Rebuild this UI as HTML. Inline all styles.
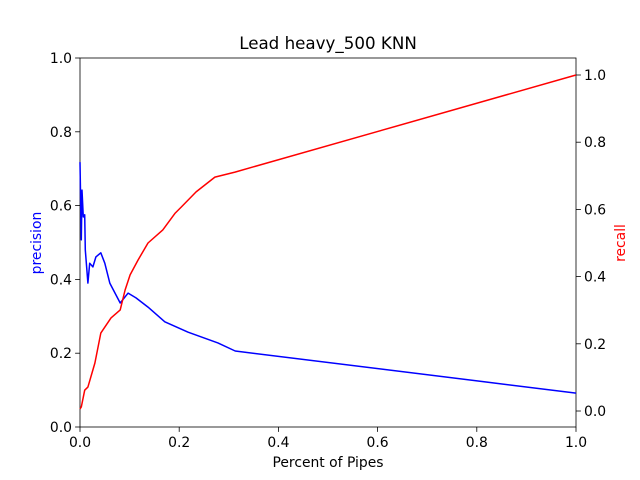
<!DOCTYPE html>
<html><head><meta charset="utf-8">
<style>
html,body{margin:0;padding:0;background:#fff;}
svg{display:block;font-family:"DejaVu Sans","Liberation Sans",sans-serif;}
</style></head>
<body>
<svg id="chart" width="640" height="480" viewBox="0 0 640 480">
<rect width="640" height="480" fill="#fff"/>
<text x="328" y="49" font-size="16.7" text-anchor="middle">Lead heavy_500 KNN</text>
<g id="axes"></g>
<g id="series"></g>
<text x="328" y="467" font-size="13.9" text-anchor="middle">Percent of Pipes</text>
<text x="0" y="0" font-size="13.9" fill="blue" text-anchor="middle" transform="translate(41,243) rotate(-90)">precision</text>
<text x="0" y="0" font-size="13.9" fill="red" text-anchor="middle" transform="translate(625,243) rotate(-90)">recall</text>
</svg>
<script>
const xTicks = [0, 0.2, 0.4, 0.6, 0.8, 1.0];
const xTickLabels = ["0.0", "0.2", "0.4", "0.6", "0.8", "1.0"];
const leftTicks = [0, 0.2, 0.4, 0.6, 0.8, 1.0];
const leftTickLabels = ["0.0", "0.2", "0.4", "0.6", "0.8", "1.0"];
const rightTicks = [0, 0.2, 0.4, 0.6, 0.8, 1.0];
const rightTickLabels = ["0.0", "0.2", "0.4", "0.6", "0.8", "1.0"];
const precisionX = [0, 0.0026, 0.004, 0.0067, 0.0095, 0.0107, 0.016, 0.0196, 0.026, 0.032, 0.042, 0.050, 0.060, 0.081, 0.097, 0.113, 0.137, 0.171, 0.218, 0.278, 0.313, 1.0];
const precisionY = [0.718, 0.507, 0.642, 0.569, 0.575, 0.480, 0.390, 0.444, 0.434, 0.461, 0.472, 0.444, 0.390, 0.336, 0.363, 0.350, 0.325, 0.285, 0.257, 0.228, 0.206, 0.092];
const recallX = [0, 0.0026, 0.0095, 0.016, 0.030, 0.042, 0.0625, 0.081, 0.091, 0.101, 0.117, 0.137, 0.167, 0.192, 0.204, 0.234, 0.272, 0.3125, 1.0];
const recallY = [0.006, 0.012, 0.062, 0.071, 0.143, 0.232, 0.277, 0.301, 0.360, 0.405, 0.449, 0.500, 0.539, 0.589, 0.607, 0.652, 0.696, 0.711, 1.0];

const L=80,R=576,T=58,B=427;
const xS=v=>L+v*(R-L);
const yL=v=>B-v*(B-T);
const rMin=-0.0476,rMax=1.0506;
const yR=v=>B-(v-rMin)/(rMax-rMin)*(B-T);
const NS="http://www.w3.org/2000/svg";
const axes=document.getElementById('axes');
const series=document.getElementById('series');
function mk(tag,attrs,parent){const e=document.createElementNS(NS,tag);for(const k in attrs)e.setAttribute(k,attrs[k]);parent.appendChild(e);return e;}

xTicks.forEach((v,i)=>{
  const t=mk('line',{x1:xS(v),x2:xS(v),y1:B,y2:B+4.9,stroke:'#000','stroke-width':0.8},axes);
  
  
  const l=mk('text',{x:xS(v),y:B+20,'font-size':13.9,'text-anchor':'middle'},axes);
  l.textContent=xTickLabels[i];
  
  
});
leftTicks.forEach((v,i)=>{
  const t=mk('line',{x1:L-4.9,x2:L,y1:yL(v),y2:yL(v),stroke:'#000','stroke-width':0.8},axes);
  
  
  const l=mk('text',{x:L-8,y:yL(v)+5,'font-size':13.9,'text-anchor':'end'},axes);
  l.textContent=leftTickLabels[i];
  
  
});
rightTicks.forEach((v,i)=>{
  const t=mk('line',{x1:R,x2:R+4.9,y1:yR(v),y2:yR(v),stroke:'#000','stroke-width':0.8},axes);
  
  
  const l=mk('text',{x:R+8,y:yR(v)+5,'font-size':13.9,'text-anchor':'start'},axes);
  l.textContent=rightTickLabels[i];
  
  
});

const pPts=precisionX.map((x,i)=>xS(x).toFixed(1)+','+yL(precisionY[i]).toFixed(1)).join(' ');
const pl=mk('polyline',{points:pPts,fill:'none',stroke:'blue','stroke-width':1.5,'stroke-linejoin':'round'},series);


const rPts=recallX.map((x,i)=>xS(x).toFixed(1)+','+yR(recallY[i]).toFixed(1)).join(' ');
const rl=mk('polyline',{points:rPts,fill:'none',stroke:'red','stroke-width':1.5,'stroke-linejoin':'round'},series);



const fr=mk('rect',{x:L,y:T,width:R-L,height:B-T,fill:'none',stroke:'#000','stroke-width':0.8},axes);


</script>
</body></html>
